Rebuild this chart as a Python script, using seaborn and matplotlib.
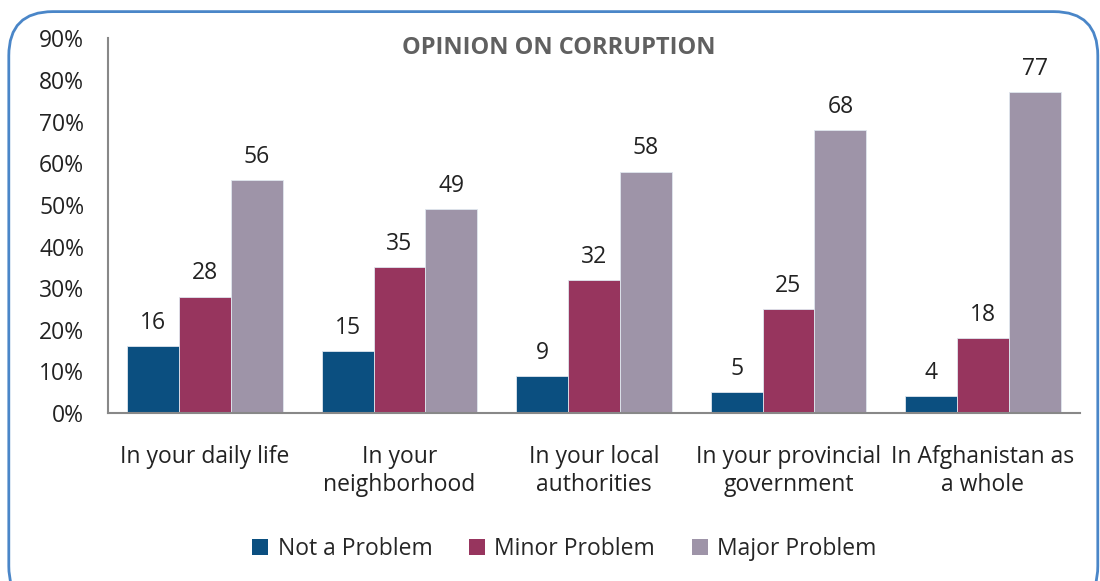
import pandas as pd
import matplotlib
matplotlib.use('Agg')
import matplotlib.pyplot as plt
from matplotlib.patches import FancyBboxPatch
import seaborn as sns

# Data
categories = ['In your daily life', 'In your\nneighborhood', 'In your local\nauthorities',
              'In your provincial\ngovernment', 'In Afghanistan as\na whole']
not_problem = [16, 15, 9, 5, 4]
minor_problem = [28, 35, 32, 25, 18]
major_problem = [56, 49, 58, 68, 77]
series = ['Not a Problem', 'Minor Problem', 'Major Problem']
colors = ['#0B4F80', '#97355E', '#9E94A8']

df = pd.DataFrame({
    'category': categories * 3,
    'value': not_problem + minor_problem + major_problem,
    'series': [s for s in series for _ in categories],
})

sns.set_style('white')
plt.rcParams['font.family'] = ['Open Sans', 'DejaVu Sans']

fig = plt.figure(figsize=(11, 5.81), dpi=100)
ax = fig.add_axes([0.098, 0.289, 0.884, 0.645])

sns.barplot(data=df, x='category', y='value', hue='series', palette=colors, saturation=1,
            width=0.8, ax=ax, edgecolor='#dfe6ee', linewidth=0.6, legend=True)

for c in ax.containers:
    ax.bar_label(c, fmt='%d', padding=8, fontsize=16.5, color='#222222')

ax.set_ylim(0, 90)
ax.set_xlim(-0.5, 4.5)
ax.set_yticks(range(0, 91, 10))
ax.set_yticklabels([f'{v}%' for v in range(0, 91, 10)], fontsize=16.5, color='#222222')
ax.set_xticklabels(categories, fontsize=16.5, color='#222222', linespacing=1.2)
ax.tick_params(axis='both', length=0)
ax.tick_params(axis='y', pad=17)
ax.tick_params(axis='x', pad=23)
ax.set_xlabel('')
ax.set_ylabel('')
for s in ['top', 'right']:
    ax.spines[s].set_visible(False)
for s in ['left', 'bottom']:
    ax.spines[s].set_color('#888888')
    ax.spines[s].set_linewidth(1.5)

fig.text(0.508, 0.938, 'OPINION ON CORRUPTION', ha='center', va='top',
         fontsize=17, fontweight='bold', color='#606060')

leg = ax.legend(loc='center', bbox_to_anchor=(0.513, 0.055), bbox_transform=fig.transFigure,
                ncol=3, frameon=False, fontsize=16.5, handlelength=0.7, handleheight=0.7,
                handletextpad=0.4, columnspacing=1.6)
for h in leg.legend_handles:
    h.set_edgecolor('none')

# rounded border around chart
border = FancyBboxPatch((0.008, -0.05), 0.99, 1.03, boxstyle='round,pad=0,rounding_size=0.04',
                        transform=fig.transFigure, fill=False, edgecolor='#4A86C8', linewidth=2,
                        mutation_aspect=1100 / 581)
fig.patches.append(border)

fig.savefig('out.png', dpi=100)
